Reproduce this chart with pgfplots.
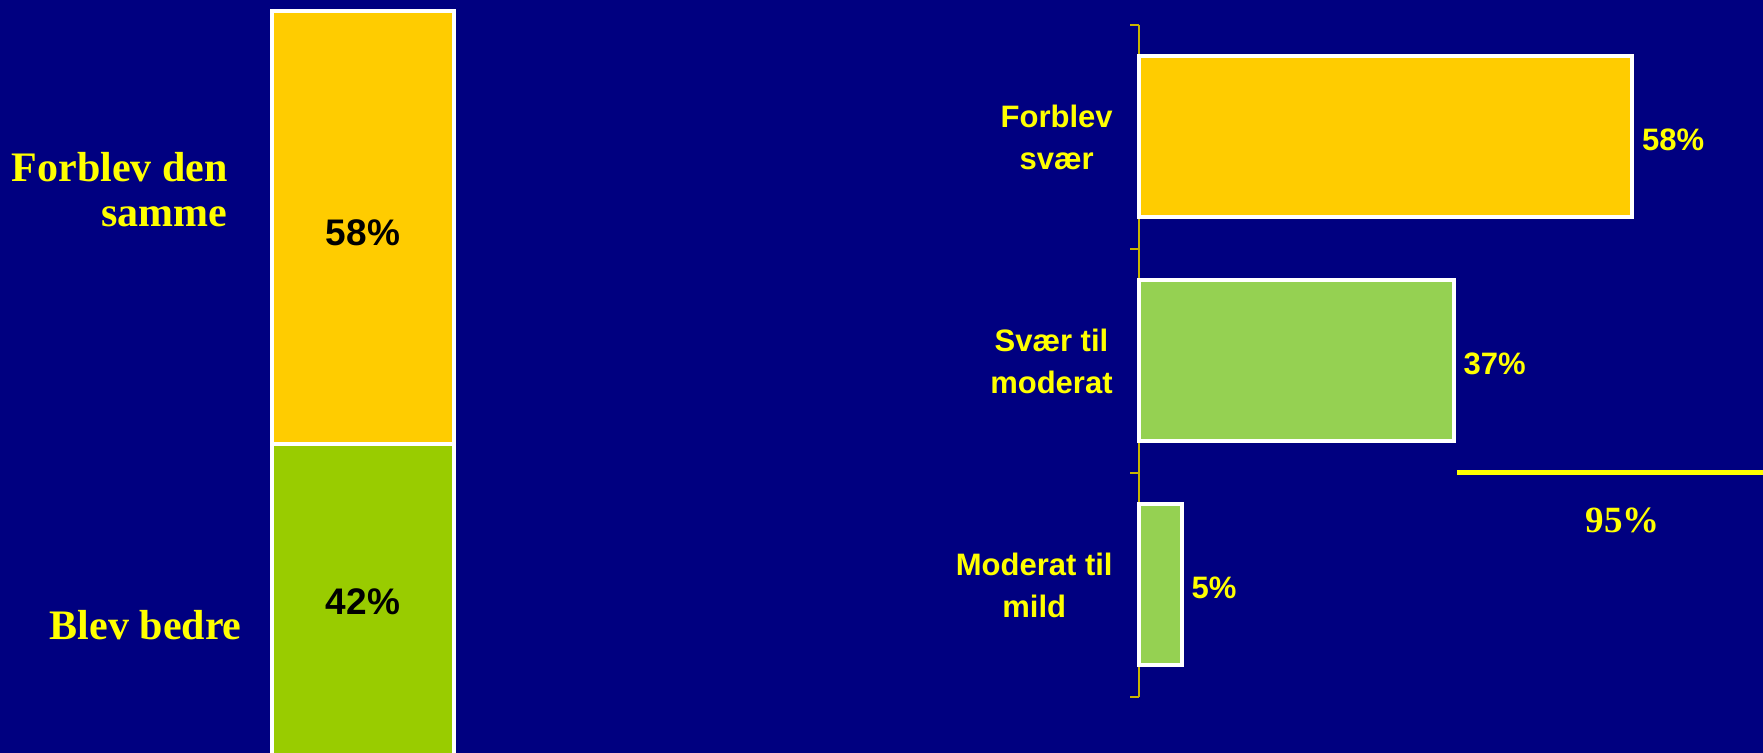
\documentclass[border=0pt]{standalone}
\usepackage{pgfplots}
\pgfplotsset{compat=1.18}
\usepackage{fontspec}
\setmainfont{Liberation Serif}
\newfontfamily\arial{Liberation Sans}
\definecolor{navy}{HTML}{000080}
\definecolor{gold}{HTML}{FFCC00}
\definecolor{lgreen}{HTML}{99CC00}
\definecolor{pgreen}{HTML}{95D152}
\definecolor{txtyel}{HTML}{FFFF00}
\definecolor{axcol}{HTML}{C8B400}

\begin{document}
\begin{tikzpicture}[x=0.5pt,y=0.5pt]
% 1 unit = 1 px of the 1763x753 reference
\useasboundingbox (0,0) rectangle (1763,753);
\fill[navy] (0,0) rectangle (1763,753);

% left: stacked bar
\begin{axis}[at={(90.5pt,-2.5pt)}, anchor=south west, scale only axis,
  width=182pt, height=373.5pt, xmin=-1, xmax=1, ymin=0, ymax=100,
  axis lines=none, ybar stacked, bar width=91pt, clip=false]
  \addplot[fill=lgreen, draw=white, line width=2pt] coordinates {(0,42)};
  \addplot[fill=gold, draw=white, line width=2pt] coordinates {(0,58)};
\end{axis}
% segment labels
\begin{scope}[every node/.style={font=\arial\bfseries\fontsize{18.5}{20}\selectfont, text=black}]
  \node at (363,520) {58\%};
  \node at (363,151) {42\%};
\end{scope}

\begin{scope}[every node/.style={anchor=base east, inner sep=0pt, text=txtyel,
    font=\bfseries\fontsize{21}{21}\selectfont}]
  \node at (228,571) {Forblev den};
  \node at (228,526) {samme};
  \node at (242,113) {Blev bedre};
\end{scope}

% right: horizontal bars
\begin{axis}[at={(569.5pt,28pt)}, anchor=south west, scale only axis,
  width=312pt, height=336pt, xmin=0, xmax=73.4, ymin=-0.5, ymax=2.5,
  y dir=reverse, xbar, bar width=80.5pt, bar shift=0pt, clip=false,
  axis x line=none, axis y line*=left,
  y axis line style={draw=axcol, line width=0.75pt},
  ytick={0,1,2}, ytick pos=left,
  yticklabels={{Forblev\\svær},{Svær til\\moderat},{Moderat til\\mild}},
  major tick length=0pt,
  yticklabel style={font=\arial\bfseries\fontsize{15.5}{21}\selectfont,
    text=txtyel, align=center, inner sep=0pt, xshift=-13pt},
  extra y ticks={-0.5,0.5,1.5,2.5}, extra y tick labels={},
  extra y tick style={major tick length=4.5pt, tick align=outside,
    tick style={draw=axcol, line width=0.75pt}},
  /pgf/number format/assume math mode=true,
  vals/.style={point meta=x,
    nodes near coords={\pgfmathprintnumber{\pgfplotspointmeta}\%},
    nodes near coords style={font=\arial\bfseries\fontsize{15.5}{18}\selectfont,
      text=txtyel, anchor=west, inner sep=0pt, xshift=4pt, yshift=-1.5pt}}]
  \addplot[fill=gold, draw=white, line width=2pt, vals] coordinates {(58,0)};
  \addplot[fill=pgreen, draw=white, line width=2pt, vals] coordinates {(37,1)};
  \addplot[fill=pgreen, draw=white, line width=2pt, vals] coordinates {(5,2)};
  \addplot[txtyel, line width=2.5pt, sharp plot, mark=none] coordinates {(37.4,1.5) (74,1.5)};
  \node[text=txtyel, font=\bfseries\fontsize{18.5}{18}\selectfont] at (axis cs:56.9,1.71) {95\%};
\end{axis}
\end{tikzpicture}
\end{document}
